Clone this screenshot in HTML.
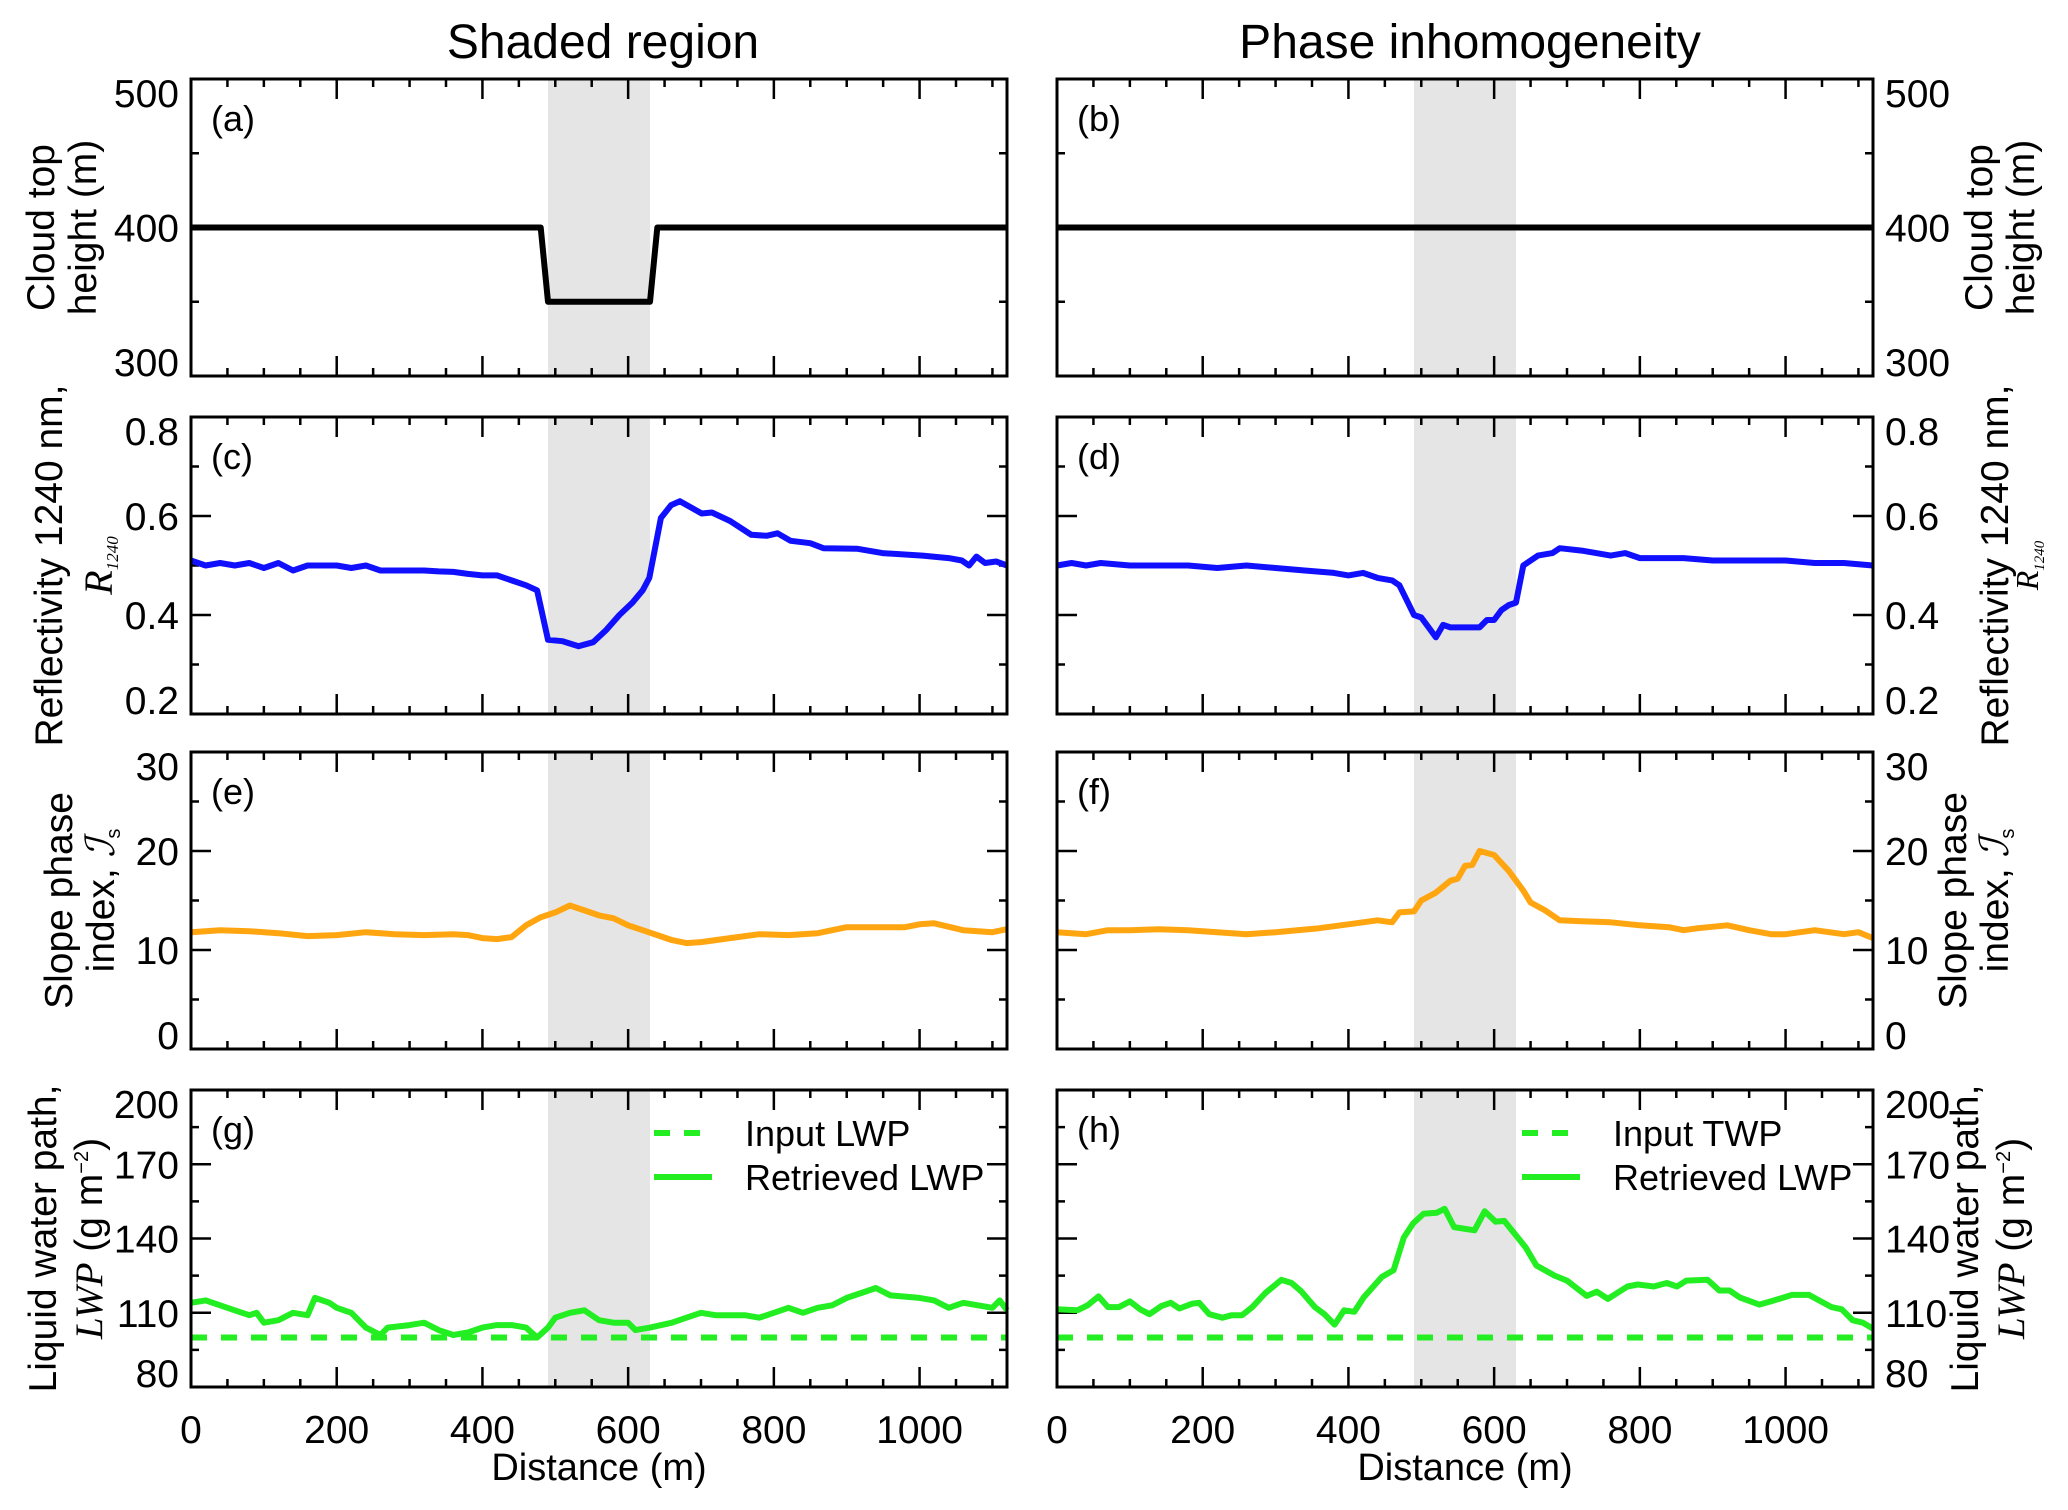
<!DOCTYPE html>
<html><head><meta charset="utf-8">
<style>
html,body{margin:0;padding:0;background:#fff;}
svg{display:block;}
text{font-family:"Liberation Sans",sans-serif;fill:#000;}
.ser{font-family:"Liberation Serif","DejaVu Serif",serif;font-style:italic;}
</style></head>
<body>
<svg id="fig" width="2068" height="1510" viewBox="0 0 2068 1510" xmlns="http://www.w3.org/2000/svg"></svg>
<script>
const NS="http://www.w3.org/2000/svg";
// ---- data ----
const xTicks=[0,200,400,600,800,1000];
const shadeRange=[490,630];
const ctDistA=[0,480,490,630,640,1120];
const ctValA=[400,400,350,350,400,400];
const ctDistB=[0,1120];
const ctValB=[400,400];
const reflDistC=[0,20,40,60,80,100,120,140,160,180,200,220,240,260,280,300,320,340,360,380,400,420,440,460,475,490,510,532,552,570,588,606,620,629,645,659,671,683,701,715,740,769,790,805,823,850,868,914,949,1004,1040,1058,1068,1078,1090,1105,1120];
const reflValC=[.51,.50,.505,.50,.505,.495,.505,.49,.50,.50,.50,.495,.50,.49,.49,.49,.49,.488,.487,.483,.48,.48,.47,.46,.45,.35,.347,.337,.345,.37,.40,.425,.45,.475,.596,.622,.63,.62,.605,.607,.59,.562,.56,.565,.55,.545,.535,.534,.525,.52,.515,.51,.50,.518,.505,.508,.50];
const reflDistD=[0,20,40,60,100,140,180,220,260,300,340,380,400,420,440,460,470,480,490,500,510,520,530,540,560,580,590,600,610,620,630,640,660,680,690,720,760,780,800,860,900,960,1000,1040,1080,1120];
const reflValD=[.50,.505,.50,.505,.50,.50,.50,.495,.50,.495,.49,.485,.48,.485,.475,.47,.46,.43,.40,.395,.375,.355,.38,.375,.375,.375,.39,.39,.41,.42,.425,.50,.52,.525,.535,.53,.52,.525,.515,.515,.51,.51,.51,.505,.505,.50];
const spiDistE=[0,40,80,120,160,200,240,280,320,360,380,400,420,440,460,480,500,520,540,560,580,600,620,640,660,680,700,720,740,780,820,860,900,940,980,1000,1020,1060,1100,1120];
const spiValE=[11.8,12.0,11.9,11.7,11.4,11.5,11.8,11.6,11.5,11.6,11.5,11.2,11.1,11.3,12.5,13.3,13.8,14.5,14.0,13.5,13.2,12.5,12.0,11.5,11.0,10.7,10.8,11.0,11.2,11.6,11.5,11.7,12.3,12.3,12.3,12.6,12.7,12.0,11.8,12.1];
const spiDistF=[0,40,70,100,140,180,220,260,300,360,400,440,460,470,490,500,520,540,550,560,570,580,600,620,640,650,670,690,720,760,800,840,860,880,920,950,980,1000,1040,1080,1100,1120];
const spiValF=[11.8,11.6,12.0,12.0,12.1,12.0,11.8,11.6,11.8,12.2,12.6,13.0,12.8,13.8,13.9,15.0,15.8,17.0,17.2,18.5,18.6,20.0,19.6,18.0,16.0,14.8,14.0,13.0,12.9,12.8,12.5,12.3,12.0,12.2,12.5,12.0,11.6,11.6,12.0,11.6,11.8,11.2];
const lwpDistG=[0,20,40,60,80,90,100,120,140,160,170,190,200,220,240,260,270,300,320,340,360,380,400,420,440,460,475,490,500,520,540,560,580,600,610,630,660,680,700,720,760,780,800,820,840,860,880,900,920,940,960,1000,1020,1040,1060,1080,1100,1110,1120];
const lwpValG=[114,115,113,111,109,110,106,107,110,109,116,114,112,110,104,101,104,105,106,103,101,102,104,105,105,104,100,104,108,110,111,107,106,106,103,104,106,108,110,109,109,108,110,112,110,112,113,116,118,120,117,116,115,112,114,113,112,115,111];
const lwpDistH=[0,28,42,57,70,85,100,114,127,143,156,168,186,195,209,227,240,254,268,286,308,322,335,354,367,381,394,408,421,446,462,476,489,503,521,532,545,573,587,602,614,643,658,683,700,727,741,756,783,797,819,837,851,864,893,909,923,937,964,982,1009,1032,1063,1077,1092,1106,1120];
const lwpValH=[111.4,111,113,116.6,112.3,112.3,114.6,111.4,109.4,112.7,114,111.7,113.7,114,109.4,108,109,109,112.3,118,123.3,122,118.7,112.3,109.4,105.2,111,110.4,116.2,124.5,127.2,140.4,146.2,150,150.4,152,144.6,143.3,151,146.8,147.1,136.5,129.1,125,123,116.8,118.5,115.6,120.6,121.4,120.6,122,120.6,123,123.3,119,119,116.2,113.3,114.8,117.2,117.2,112.3,111.4,107,106,103.6];
const inputLWP=100;
const yTicksA=[300,400,500], yTicksC=[0.2,0.4,0.6,0.8], yTicksE=[0,10,20,30], yTicksG=[80,110,140,170,200];
const yLabA=["300","400","500"], yLabC=["0.2","0.4","0.6","0.8"], yLabE=["0","10","20","30"], yLabG=["80","110","140","170","200"];

// ---- layout ----
const svg=document.getElementById('fig');
const colX=[191,1057], W=816, tops=[79,417,752,1090], H=297, XMAX=1120;
function el(tag,attrs,parent){const e=document.createElementNS(NS,tag);for(const k in attrs)e.setAttribute(k,attrs[k]);(parent||svg).appendChild(e);return e;}
function xs(c){return d=>colX[c]+d/XMAX*W;}
function ys(r,min,max){return v=>tops[r]+H-(v-min)/(max-min)*H;}

function panel(c,r,min,max,ticks,labs,minorStep,letter,name){
  const g=el('g',{});
  
  
  const X=xs(c),Y=ys(r,min,max),x0=colX[c],y0=tops[r];
  const sh=el('rect',{x:X(shadeRange[0]),y:y0,width:X(shadeRange[1])-X(shadeRange[0]),height:H,fill:'#e5e5e5'},g);
  
  
  for(let d=0;d<=XMAX;d+=50){const maj=d%200===0,L=maj?20:8;
    el('line',{x1:X(d),x2:X(d),y1:y0+H,y2:y0+H-L,stroke:'#000','stroke-width':2.5},g);
    el('line',{x1:X(d),x2:X(d),y1:y0,y2:y0+L,stroke:'#000','stroke-width':2.5},g);}
  for(let v=min;v<=max+1e-9;v+=minorStep){const maj=ticks.some(t=>Math.abs(t-v)<1e-6),L=maj?20:8;
    el('line',{x1:x0,x2:x0+L,y1:Y(v),y2:Y(v),stroke:'#000','stroke-width':2.5},g);
    el('line',{x1:x0+W,x2:x0+W-L,y1:Y(v),y2:Y(v),stroke:'#000','stroke-width':2.5},g);}
  ticks.forEach((t,i)=>{
    let by=Y(t)+14;
    if(i===0)by=Y(t);
    if(i===ticks.length-1)by=Y(t)+28;
    const tx=el('text',{x:c===0?x0-12:x0+W+12,y:by,'font-size':39,'text-anchor':c===0?'end':'start'},g);tx.textContent=labs[i];
    
    });
  if(r===3){xTicks.forEach(t=>{const tx=el('text',{x:X(t),y:y0+H+56,'font-size':39,'text-anchor':'middle'},g);tx.textContent=String(t);
    
    });
    const xl=el('text',{x:x0+W/2,y:y0+H+93,'font-size':38,'text-anchor':'middle'},g);xl.textContent='Distance (m)';
    
    }
  const pl=el('text',{x:x0+20,y:y0+52,'font-size':36},g);pl.textContent=letter;
  
  
  return {g,X,Y,x0,y0};
}
function line(p,dist,vals,color,name,dash){
  const d=dist.map((x,i)=>(i?'L':'M')+p.X(x).toFixed(1)+','+p.Y(vals[i]).toFixed(1)).join('');
  const a={d,fill:'none',stroke:color,'stroke-width':6,'stroke-linejoin':'round'};
  if(dash)a['stroke-dasharray']=dash;
  const e=el('path',a,p.g);
  
  
}
function frame(p){const f=el('rect',{x:p.x0,y:p.y0,width:W,height:H,fill:'none',stroke:'#000','stroke-width':3},p.g);
  
  }
function ylab(x,cy,lines){const t=el('text',{transform:`translate(${x},${cy}) rotate(-90)`,'text-anchor':'middle','font-size':39});
  
  
  t.innerHTML=lines;}
function legend(p,x,txt1){
  [[1133,'16,14','Input '+txt1],[1177,null,'Retrieved LWP']].forEach(([y,dash,s])=>{
    const a={x1:x,x2:x+58,y1:y,y2:y,stroke:'#22ee22','stroke-width':6};if(dash)a['stroke-dasharray']=dash;
    const l=el('line',a,p.g);
    
    
    const t=el('text',{x:x+91,y:y+13,'font-size':36},p.g);t.textContent=s;
    
    });
}
[[603,'Shaded region'],[1470,'Phase inhomogeneity']].forEach(([x,s])=>{const t=el('text',{x,y:58,'font-size':48,'text-anchor':'middle'});t.textContent=s;
  
  });

const pa=panel(0,0,300,500,yTicksA,yLabA,50,'(a)','panel-a');line(pa,ctDistA,ctValA,'#000','cloud-top-line');frame(pa);
const pb=panel(1,0,300,500,yTicksA,yLabA,50,'(b)','panel-b');line(pb,ctDistB,ctValB,'#000','cloud-top-line');frame(pb);
const pc=panel(0,1,0.2,0.8,yTicksC,yLabC,0.1,'(c)','panel-c');line(pc,reflDistC,reflValC,'#1010ff','reflectivity-line');frame(pc);
const pd=panel(1,1,0.2,0.8,yTicksC,yLabC,0.1,'(d)','panel-d');line(pd,reflDistD,reflValD,'#1010ff','reflectivity-line');frame(pd);
const pe=panel(0,2,0,30,yTicksE,yLabE,5,'(e)','panel-e');line(pe,spiDistE,spiValE,'#ffa510','slope-index-line');frame(pe);
const pf=panel(1,2,0,30,yTicksE,yLabE,5,'(f)','panel-f');line(pf,spiDistF,spiValF,'#ffa510','slope-index-line');frame(pf);
const pg=panel(0,3,80,200,yTicksG,yLabG,15,'(g)','panel-g');line(pg,[0,XMAX],[inputLWP,inputLWP],'#22ee22','input-lwp-line','16,14');line(pg,lwpDistG,lwpValG,'#22ee22','retrieved-lwp-line');frame(pg);legend(pg,654,'LWP');
const ph=panel(1,3,80,200,yTicksG,yLabG,15,'(h)','panel-h');line(ph,[0,XMAX],[inputLWP,inputLWP],'#22ee22','input-twp-line','16,14');line(ph,lwpDistH,lwpValH,'#22ee22','retrieved-lwp-line');frame(ph);legend(ph,1522,'TWP');

const cy=r=>tops[r]+H/2;
ylab(54,cy(0),'<tspan x="0" dy="0">Cloud top</tspan><tspan x="0" dy="42">height (m)</tspan>');
ylab(62,cy(1),'<tspan x="0" dy="0">Reflectivity 1240 nm,</tspan><tspan x="0" dy="50" class="ser" font-size="40">R</tspan><tspan class="ser" font-size="17" dy="6">1240</tspan>');
ylab(72,cy(2),'<tspan x="0" dy="0">Slope phase</tspan><tspan x="0" dy="42">index, </tspan><tspan class="ser" font-size="40">ℐ</tspan><tspan font-size="20" dy="6">s</tspan>');
ylab(56,cy(3),'<tspan x="0" dy="0">Liquid water path,</tspan><tspan x="0" dy="46" class="ser">LWP</tspan><tspan> (g m</tspan><tspan font-size="20" dy="-14">−2</tspan><tspan dy="14">)</tspan>');
ylab(1992,cy(0),'<tspan x="0" dy="0">Cloud top</tspan><tspan x="0" dy="42">height (m)</tspan>');
ylab(2008,cy(1),'<tspan x="0" dy="0">Reflectivity 1240 nm,</tspan><tspan x="0" dy="30" class="ser" font-size="32">R</tspan><tspan class="ser" font-size="15" dy="6">1240</tspan>');
ylab(1966,cy(2),'<tspan x="0" dy="0">Slope phase</tspan><tspan x="0" dy="42">index, </tspan><tspan class="ser" font-size="40">ℐ</tspan><tspan font-size="20" dy="6">s</tspan>');
ylab(1978,cy(3),'<tspan x="0" dy="0">Liquid water path,</tspan><tspan x="0" dy="46" class="ser">LWP</tspan><tspan> (g m</tspan><tspan font-size="20" dy="-14">−2</tspan><tspan dy="14">)</tspan>');
</script>
</body></html>
